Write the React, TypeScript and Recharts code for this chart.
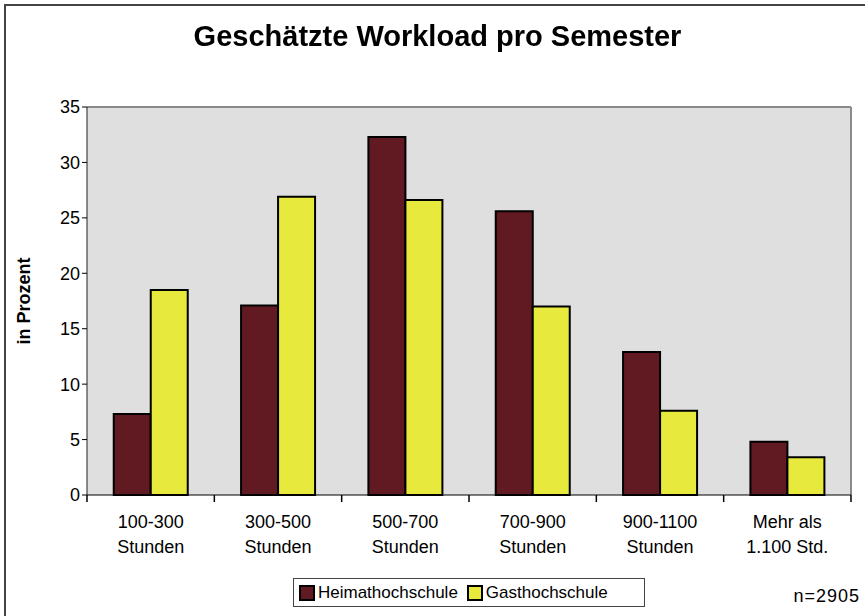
import {
  BarChart,
  Bar,
  XAxis,
  YAxis,
  CartesianGrid,
} from 'recharts'

// Geschätzte Workload pro Semester, Werte in Prozent
const kategorien = [
  ['100-300', 'Stunden'],
  ['300-500', 'Stunden'],
  ['500-700', 'Stunden'],
  ['700-900', 'Stunden'],
  ['900-1100', 'Stunden'],
  ['Mehr als', '1.100 Std.'],
]
const heimathochschule = [7.3, 17.1, 32.3, 25.6, 12.9, 4.8]
const gasthochschule = [18.5, 26.9, 26.6, 17.0, 7.6, 3.4]
const yTicks = [0, 5, 10, 15, 20, 25, 30, 35]

const FONT = '"Liberation Sans", Arial, Helvetica, sans-serif'
const MAROON = '#621a22'
const GELB = '#e7e93c'

const serien = [
  { key: 'Heimathochschule', color: MAROON },
  { key: 'Gasthochschule', color: GELB },
]

const data = kategorien.map((k, i) => ({
  kategorie: k.join('\n'),
  Heimathochschule: heimathochschule[i],
  Gasthochschule: gasthochschule[i],
}))

// Beschriftung zweizeilig, Teilstriche an den Kategoriegrenzen
function KategorieTick(props: any) {
  const { x, y, payload, index } = props
  const halb = payload?.offset ?? 0
  const achse = y - 8
  const zeilen = String(payload.value).split('\n')
  return (
    <g>
      <line x1={x - halb} y1={achse} x2={x - halb} y2={achse + 7} stroke="#000" strokeWidth={1.5} />
      {index === kategorien.length - 1 && (
        <line x1={x + halb} y1={achse} x2={x + halb} y2={achse + 7} stroke="#000" strokeWidth={1.5} />
      )}
      <text x={x} y={y} textAnchor="middle" fontFamily={FONT} fontSize={18} fill="#000">
        {zeilen.map((z, i) => (
          <tspan key={i} x={x} dy={25}>
            {z}
          </tspan>
        ))}
      </text>
    </g>
  )
}

function Legende() {
  return (
    <div
      style={{
        position: 'absolute',
        left: 293,
        top: 578,
        width: 352,
        height: 29,
        boxSizing: 'border-box',
        display: 'flex',
        alignItems: 'center',
        border: '1px solid #444',
        paddingLeft: 5,
        background: '#fff',
        fontSize: 17,
        color: '#000',
      }}
    >
      {serien.map((s) => (
        <span key={s.key} style={{ display: 'inline-flex', alignItems: 'center', marginRight: 9 }}>
          <span
            style={{
              width: 12,
              height: 12,
              background: s.color,
              border: '2px solid #000',
              marginRight: 3,
              display: 'inline-block',
            }}
          />
          {s.key}
        </span>
      ))}
    </div>
  )
}

export default function App() {
  return (
    <div
      style={{
        position: 'fixed',
        left: 0,
        top: 0,
        width: 865,
        height: 616,
        background: '#fff',
        fontFamily: FONT,
      }}
    >
      <div
        style={{
          position: 'absolute',
          left: 4,
          top: 4,
          right: 0,
          bottom: 0,
          borderTop: '2px solid #444',
          borderLeft: '2px solid #444',
        }}
      />
      <div style={{ position: 'absolute', left: 0, top: 0 }}>
        <BarChart
          width={865}
          height={616}
          data={data}
          margin={{ top: 107, right: 14, bottom: 61, left: 0 }}
          barCategoryGap="21%"
          barGap={0}
        >
          <rect x={87} y={107} width={764} height={388} fill="#dfdfdf" />
          <CartesianGrid
            vertical={false}
            stroke="#222"
            strokeOpacity={0.85}
            horizontalValues={yTicks.slice(1, -1)}
          />
          <XAxis
            dataKey="kategorie"
            interval={0}
            tick={<KategorieTick />}
            axisLine={{ stroke: '#000' }}
            tickLine={false}
            tickSize={6}
            height={60}
          />
          <YAxis
            domain={[0, 35]}
            ticks={yTicks}
            interval={0}
            width={87}
            tickSize={5}
            tick={{ fontFamily: FONT, fontSize: 18, fill: '#000' }}
            axisLine={{ stroke: '#222' }}
            tickLine={{ stroke: '#000' }}
            label={{
              value: 'in Prozent',
              angle: -90,
              position: 'insideLeft',
              offset: 24,
              style: { fontFamily: FONT, fontSize: 18, fontWeight: 'bold', fill: '#000', textAnchor: 'middle' },
            }}
          />
          <line x1={87} y1={107} x2={851} y2={107} stroke="#8a8a8a" strokeWidth={2} />
          <line x1={851} y1={107} x2={851} y2={495} stroke="#8a8a8a" strokeWidth={2} />
          {serien.map((s) => (
            <Bar
              key={s.key}
              dataKey={s.key}
              fill={s.color}
              stroke="#000"
              strokeWidth={2}
              isAnimationActive={false}
            />
          ))}
        </BarChart>
      </div>
      <div
        style={{
          position: 'absolute',
          left: 0,
          width: 875,
          top: 20,
          textAlign: 'center',
          fontSize: 29,
          fontWeight: 'bold',
          color: '#000',
        }}
      >
        Geschätzte Workload pro Semester
      </div>
      <Legende />
      <div
        style={{
          position: 'absolute',
          right: 5,
          top: 586,
          fontSize: 18,
          letterSpacing: 1,
          color: '#000',
        }}
      >
        n=2905
      </div>
    </div>
  )
}
